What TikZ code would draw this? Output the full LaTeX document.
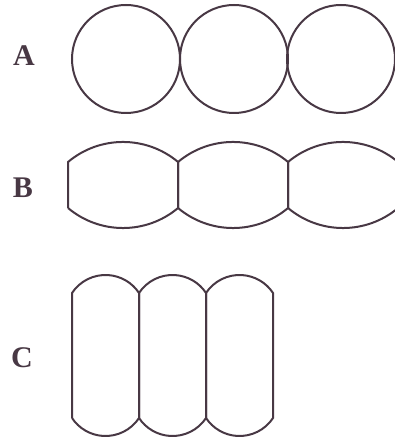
\documentclass[tikz,border=0pt]{standalone}
\usepackage{fontspec}
\setmainfont{Liberation Serif}
\usepackage{tikz}
\usetikzlibrary{positioning}

\definecolor{inkline}{RGB}{72,56,68}

\begin{document}
\begin{tikzpicture}[x=0.5pt, y=0.5pt,
    cell/.style={draw=inkline, line width=1pt},
    tag/.style={font=\fontsize{15}{17}\selectfont\bfseries, text=inkline}]
    \useasboundingbox (0,0) rectangle (395,439);
    % row A: round cells
    \node[tag] (labA) at (24,383) {A};
    \foreach \cx in {126,234,341}
        \draw[cell] (\cx,380) circle[radius=54];
    % row B: flattened cells
    \node[tag] (labB) at (23,251) {B};
    \foreach \x in {68,178,288}
        \draw[cell] (\x,231) -- (\x,277)
            arc[start angle=130, end angle=50, radius=85.6]
            -- ++(0,-46)
            arc[start angle=-50, end angle=-130, radius=85.6];
    % row C: tall cells
    \node[tag] (labC) at (22,81) {C};
    \foreach \x in {72,139,206}
        \draw[cell] (\x,21) -- (\x,146)
            arc[start angle=146.5, end angle=33.5, radius=40.2]
            -- ++(0,-125)
            arc[start angle=-33.5, end angle=-146.5, radius=40.2];
\end{tikzpicture}
\end{document}
